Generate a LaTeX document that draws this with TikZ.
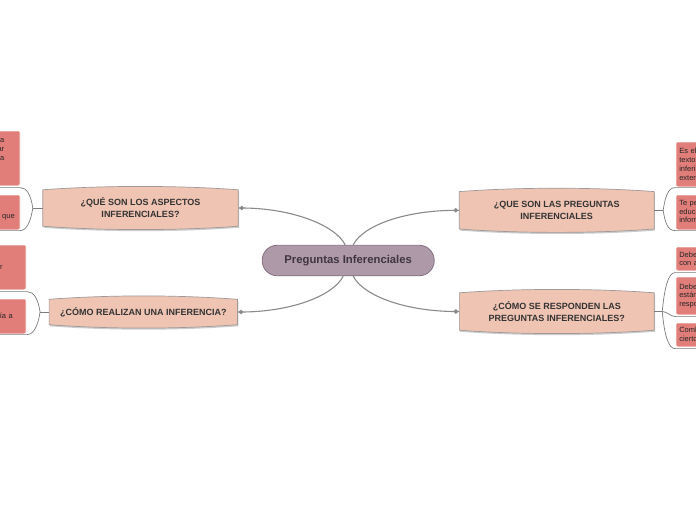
\documentclass[tikz,border=0pt]{standalone}
\usepackage{fontspec}
\setmainfont{Liberation Sans}
\usetikzlibrary{calc,shapes.geometric}
\pgfdeclarelayer{background}
\pgfsetlayers{background,main}
\definecolor{centralfill}{HTML}{AE99A9}
\definecolor{centraldraw}{HTML}{857080}
\definecolor{centraltext}{HTML}{3F3540}
\definecolor{mainfill}{HTML}{F0C4B3}
\definecolor{maindraw}{HTML}{9E9A99}
\definecolor{leaffill}{HTML}{E17E79}
\definecolor{leafdraw}{HTML}{EBA4A0}
\definecolor{linkgray}{HTML}{8A8A8A}
\definecolor{leaflink}{HTML}{7C7C7C}
\definecolor{textdark}{HTML}{333333}
\newcommand\hidepad{\rule{60pt}{0pt}}
\newcommand\mainshape[1]{%
  \begin{pgfonlayer}{background}
    \fill[gray!55,opacity=0.7,transform canvas={shift={(0.8pt,-1.6pt)}}]
      (#1.south west) -- (#1.north west)
      .. controls +(60,-4.5) and +(-60,-4.5) .. (#1.north east)
      -- (#1.south east)
      .. controls +(-60,4.5) and +(60,4.5) .. (#1.south west) -- cycle;
    \draw[mainshapestyle]
      (#1.south west) -- (#1.north west)
      .. controls +(60,-4.5) and +(-60,-4.5) .. (#1.north east)
      -- (#1.south east)
      .. controls +(-60,4.5) and +(60,4.5) .. (#1.south west) -- cycle;
  \end{pgfonlayer}}
\begin{document}
\begin{tikzpicture}[x=1pt,y=-1pt,
  centralnode/.style={draw=centraldraw,fill=centralfill,line width=0.8pt,
    rounded corners=15pt,minimum width=172pt,minimum height=30.5pt,inner sep=0pt,
    font=\fontsize{11.3}{13}\selectfont\bfseries,text=centraltext},
  maintext/.style={minimum height=#1,inner sep=0pt,align=center,
    font=\fontsize{9}{12}\selectfont\bfseries,text=textdark},
  mainshapestyle/.style={draw=maindraw,fill=mainfill,line width=0.7pt,line join=round},
  link/.style={draw=linkgray,line width=1.1pt},
  leaflinkstyle/.style={draw=leaflink,line width=0.7pt},
  dia/.style={diamond,fill=linkgray,inner sep=0pt,minimum size=5pt},
  leaf/.style={rectangle,rounded corners=2pt,fill=leaffill,draw=leafdraw,line width=0.6pt,
    font=\fontsize{7.5}{8.7}\selectfont,text=black!85},
  leftleaf/.style={leaf,anchor=north east,text width=230pt,align=right,inner ysep=0pt},
  rightleaf/.style={leaf,anchor=north west,text width=160pt,align=left,inner xsep=3pt,inner ysep=0pt}
]
\useasboundingbox (0,0) rectangle (696,520);
\clip (0,0) rectangle (696,520);
\begin{pgfonlayer}{background}
\fill[white] (0,0) rectangle (696,520);
\end{pgfonlayer}

% central
\node[centralnode] (c) at (348.2,260.5) {Preguntas Inferenciales};

% main nodes
\node[maintext=36pt,minimum width=195pt] (q1) at (140.5,208) {¿QUÉ SON LOS ASPECTOS\\INFERENCIALES?};
\node[maintext=25pt,minimum width=188pt] (q2) at (143.3,312) {¿CÓMO REALIZAN UNA INFERENCIA?};
\node[maintext=37pt,minimum width=194.5pt] (q3) at (556.7,210.3) {¿QUE SON LAS PREGUNTAS\\INFERENCIALES};
\node[maintext=37pt,minimum width=194.5pt] (q4) at (556.8,311.5) {¿CÓMO SE RESPONDEN LAS\\PREGUNTAS INFERENCIALES?};

% main connectors
\begin{pgfonlayer}{background}
\draw[link] ($(c.north)+(-3,0)$) .. controls +(-10,-20) and +(49,0) .. ($(q1.east)+(3.5,0)$) -- (q1.east);
\draw[link] ($(c.north)+(5,0)$) .. controls +(10,-20) and +(-49,0) .. ($(q3.west)+(-3.5,0)$) -- (q3.west);
\draw[link] ($(c.south)+(-5,0)$) .. controls +(-10,20) and +(49,0) .. ($(q2.east)+(3.5,0)$) -- (q2.east);
\draw[link] ($(c.south)+(5,0)$) .. controls +(10,20) and +(-49,0) .. ($(q4.west)+(-3.5,0)$) -- (q4.west);
\end{pgfonlayer}
\mainshape{q1}
\mainshape{q2}
\mainshape{q3}
\mainshape{q4}

% diamonds
\node[dia] (d1) at ($(q1.east)+(3.5,0)$) {};
\node[dia] (d2) at ($(q2.east)+(3.5,0)$) {};
\node[dia] (d3) at ($(q3.west)+(-3.5,0)$) {};
\node[dia] (d4) at ($(q4.west)+(-3.5,0)$) {};

% left leaves
\node[leftleaf,minimum height=54pt,inner xsep=15.5pt] (l1a) at (20,131)
  {Son procesos mentales que realiza\\el lector para deducir y relacionar\\información que no aparece explícita\\en el texto que se está\hidepad\\leyendo.\hidepad};
\node[leftleaf,minimum height=34pt,inner xsep=5pt] (l1b) at (20,195)
  {Permiten comprender lo\hidepad\\que};
\node[leftleaf,minimum height=44pt,inner xsep=23pt] (l2a) at (26,245)
  {Relacionando los datos\hidepad\\del texto se puede inferir\\lo que no está escrito.\hidepad};
\node[leftleaf,minimum height=34pt,inner xsep=13pt] (l2b) at (26,299)
  {Usando los saberes previos\hidepad\\y la lectura que nos guía a\\la conclusión.\hidepad};

% right leaves
\node[rightleaf,minimum height=44pt] (r1a) at (676,142)
  {Es el tipo de pregunta cuyo\\texto no da la respuesta;\\inferimos con información\\externa al texto.};
\node[rightleaf,minimum height=34pt] (r1b) at (676,195)
  {Te permiten deducir y\\educar la capacidad de\\información implícita.};
\node[rightleaf,minimum height=23pt] (r2a) at (676,247)
  {Debes leer el texto\\con atención.};
\node[rightleaf,minimum height=37pt] (r2b) at (676,277)
  {Debes buscar pistas que\\están en el texto para\\responder.};
\node[rightleaf,minimum height=23pt] (r2c) at (676,323)
  {Combinando lo leído con\\ciertos saberes previos.};

% leaf connectors, left
\coordinate (b1) at ($(q1.west)+(-10,0)$);
\draw[leaflinkstyle] (q1.west) -- (b1);
\draw[leaflinkstyle] (b1) .. controls +(-2,-13) and +(7,0) .. ($(l1a.south east)+(0,2)$) -- ++(-200,0);
\draw[leaflinkstyle] (b1) .. controls +(-2,13) and +(7,0) .. ($(l1b.south east)+(0,1)$) -- ++(-200,0);
\coordinate (b2) at ($(q2.west)+(-9,0)$);
\draw[leaflinkstyle] (q2.west) -- (b2);
\draw[leaflinkstyle] (b2) .. controls +(-2,-13) and +(7,0) .. ($(l2a.south east)+(1,2)$) -- ++(-200,0);
\draw[leaflinkstyle] (b2) .. controls +(-2,13) and +(7,0) .. ($(l2b.south east)+(1,1)$) -- ++(-200,0);

% leaf connectors, right
\coordinate (b3) at ($(q3.east)+(9,0)$);
\draw[leaflinkstyle] (q3.east) -- (b3);
\draw[leaflinkstyle] (b3) .. controls +(2,-13) and +(-7,0) .. ($(r1a.south west)+(-1,1)$) -- ++(200,0);
\draw[leaflinkstyle] (b3) .. controls +(2,13) and +(-7,0) .. ($(r1b.south west)+(-1,1)$) -- ++(200,0);
\coordinate (b4) at ($(q4.east)+(8,0)$);
\draw[leaflinkstyle] (q4.east) -- (b4);
\draw[leaflinkstyle] (b4) .. controls +(2,-22) and +(-7,0) .. ($(r2a.south west)+(-1,2)$) -- ++(200,0);
\draw[leaflinkstyle] (b4) .. controls +(5,0) and +(-6,0) .. ($(r2b.south west)+(0,2)$) -- ++(200,0);
\draw[leaflinkstyle] (b4) .. controls +(2,22) and +(-7,0) .. ($(r2c.south west)+(-1,2)$) -- ++(200,0);
\end{tikzpicture}
\end{document}
